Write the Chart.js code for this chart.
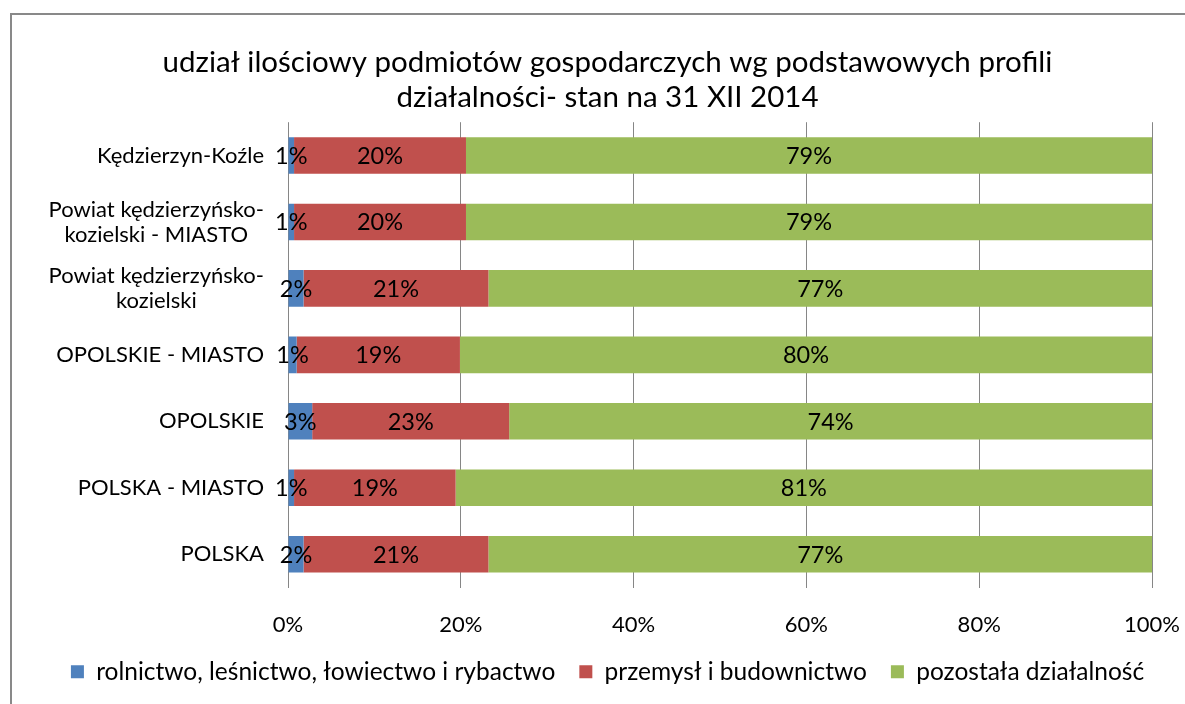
<!DOCTYPE html>
<html>
<head>
<meta charset="utf-8">
<script src="https://cdn.jsdelivr.net/npm/chart.js@4/dist/chart.umd.min.js"></script>
<style>
  html, body { margin: 0; padding: 0; background: #fff; overflow: hidden; }
  #frame { position: absolute; left: 10px; top: 13px; width: 1200px; height: 720px; border: 2px solid #898989; box-sizing: border-box; }
  #wrap { position: absolute; left: 0; top: 0; width: 1185px; height: 704px; }
</style>
</head>
<body>
<div id="frame"></div>
<div id="wrap"><canvas id="chart"></canvas></div>
<script>
const FONT = 'Lato, "Open Sans", "DejaVu Sans", sans-serif';

const categories = [
    'Kędzierzyn-Koźle',
    ['Powiat kędzierzyńsko-', 'kozielski - MIASTO'],
    ['Powiat kędzierzyńsko-', 'kozielski'],
    'OPOLSKIE - MIASTO',
    'OPOLSKIE',
    'POLSKA - MIASTO',
    'POLSKA'
];
const rolnictwo = [0.7, 0.7, 1.8, 1.0, 2.8, 0.7, 1.8];
const przemysl = [19.9, 19.9, 21.4, 18.9, 22.8, 18.7, 21.4];
const pozostala = [79.4, 79.4, 76.8, 80.1, 74.4, 80.6, 76.8];
const xTicks = [0, 20, 40, 60, 80, 100];

// y labels: block right-aligned, lines centered inside the block (like Excel)
const yLabelPlugin = {
    id: 'yLabels',
    afterDraw(chart) {
        const ctx = chart.ctx;
        const y = chart.scales.y;
        ctx.save();
        ctx.font = '22px ' + FONT;
        ctx.fillStyle = '#000';
        ctx.textBaseline = 'middle';
        ctx.textAlign = 'center';
        const right = chart.chartArea.left - 24;
        const lh = 25;
        categories.forEach((lab, i) => {
            const lines = Array.isArray(lab) ? lab : [lab];
            const w = Math.max(...lines.map(l => ctx.measureText(l).width));
            const cy = y.getPixelForTick(i);
            lines.forEach((l, k) => {
                ctx.fillText(l, right - w / 2, cy + (k - (lines.length - 1) / 2) * lh);
            });
        });
        ctx.restore();
    }
};

// value labels in the middle of each segment
const valueLabelPlugin = {
    id: 'valueLabels',
    afterDatasetsDraw(chart) {
        const ctx = chart.ctx;
        ctx.save();
        ctx.font = '23.5px ' + FONT;
        ctx.fillStyle = '#000';
        ctx.textAlign = 'center';
        ctx.textBaseline = 'middle';
        chart.data.datasets.forEach((ds, di) => {
            chart.getDatasetMeta(di).data.forEach((bar, i) => {
                const cx = (bar.x + bar.base) / 2;
                ctx.fillText(Math.round(ds.data[i]) + '%', cx, bar.y + 1);
            });
        });
        ctx.restore();
    }
};

const ctx = document.getElementById('chart').getContext('2d');
const myChart = new Chart(ctx, {
    type: 'bar',
    data: {
        labels: categories,
        datasets: [
            {
                label: 'rolnictwo, leśnictwo, łowiectwo i rybactwo',
                data: rolnictwo,
                backgroundColor: '#4F81BD'
            },
            {
                label: 'przemysł i budownictwo',
                data: przemysl,
                backgroundColor: '#C0504D'
            },
            {
                label: 'pozostała działalność',
                data: pozostala,
                backgroundColor: '#9BBB59'
            }
        ]
    },
    options: {
        indexAxis: 'y',
        responsive: true,
        maintainAspectRatio: false,
        animation: false,
        barPercentage: 0.55,
        categoryPercentage: 1,
        layout: { padding: { left: 40, right: 10, top: 0, bottom: 10 } },
        plugins: {
            title: {
                display: true,
                text: ['udział ilościowy podmiotów gospodarczych wg podstawowych profili', 'działalności- stan na 31 XII 2014'],
                color: '#000',
                font: { family: FONT, size: 29.5, weight: 'normal', lineHeight: 1.19 },
                padding: { top: 45, bottom: 7 }
            },
            legend: {
                position: 'bottom',
                labels: {
                    color: '#000',
                    font: { family: FONT, size: 24.5 },
                    boxWidth: 13,
                    boxHeight: 13,
                    padding: 24
                }
            },
            tooltip: { enabled: false }
        },
        scales: {
            x: {
                stacked: true,
                min: 0,
                max: 100,
                afterBuildTicks: s => { s.ticks = xTicks.map(v => ({ value: v })); },
                ticks: {
                    color: '#000',
                    font: { family: FONT, size: 22 },
                    padding: 24,
                    callback: v => v + '%'
                },
                grid: { color: '#868686', drawTicks: false },
                border: { display: false },
                afterFit: s => { s.height = 48; s.paddingRight = 33; s.paddingLeft = 0; }
            },
            y: {
                stacked: true,
                ticks: { display: false },
                grid: { display: false },
                border: { display: false },
                afterFit: s => { s.width = 248; }
            }
        }
    },
    plugins: [yLabelPlugin, valueLabelPlugin]
});
</script>
</body>
</html>
